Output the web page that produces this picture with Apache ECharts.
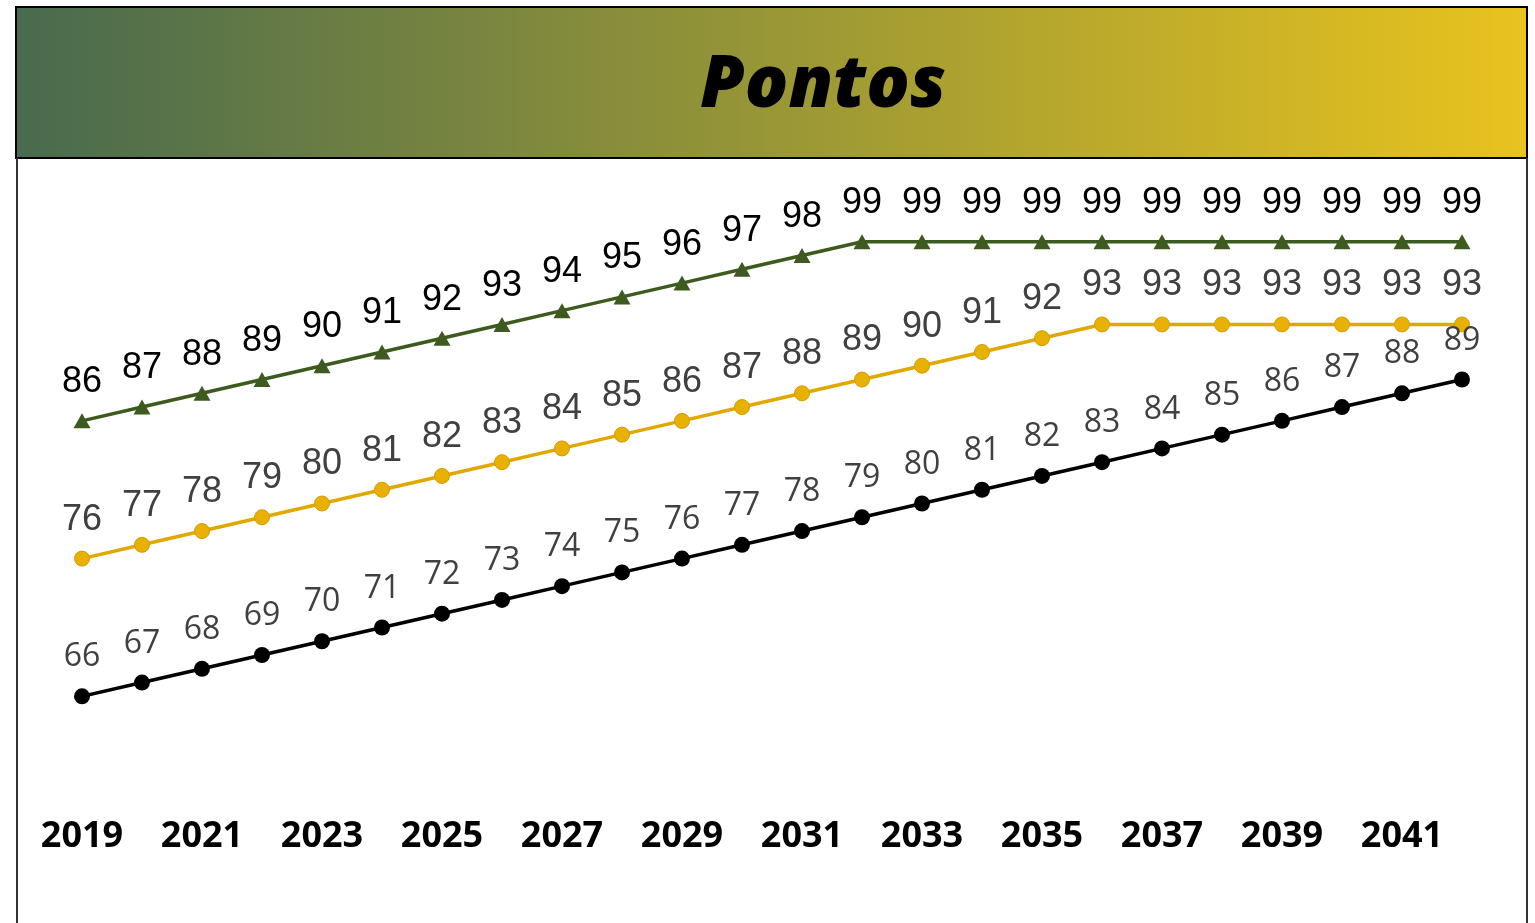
<!DOCTYPE html>
<html>
<head>
<meta charset="utf-8">
<script src="https://cdn.jsdelivr.net/npm/echarts@6/dist/echarts.min.js"></script>
<style>
  html, body { margin: 0; padding: 0; background: #fff; }
  #chart { width: 1535px; height: 923px; }
</style>
</head>
<body>
<div id="chart"></div>
<script>
// years 2019..2042
const years = ["2019", "2020", "2021", "2022", "2023", "2024", "2025", "2026", "2027", "2028", "2029", "2030",
  "2031", "2032", "2033", "2034", "2035", "2036", "2037", "2038", "2039", "2040", "2041", "2042"];
const topSeries = [86, 87, 88, 89, 90, 91, 92, 93, 94, 95, 96, 97, 98, 99, 99, 99, 99, 99, 99, 99, 99, 99, 99, 99];
const midSeries = [76, 77, 78, 79, 80, 81, 82, 83, 84, 85, 86, 87, 88, 89, 90, 91, 92, 93, 93, 93, 93, 93, 93, 93];
const lowSeries = [66, 67, 68, 69, 70, 71, 72, 73, 74, 75, 76, 77, 78, 79, 80, 81, 82, 83, 84, 85, 86, 87, 88, 89];
const title = "Pontos";

const chart = echarts.init(document.getElementById("chart"));

chart.setOption({
  backgroundColor: "#fff",
  animation: false,
  grid: { left: 82, right: 73, top: 228, bottom: 144 },
  xAxis: {
    type: "category",
    data: years,
    boundaryGap: false,
    axisLine: { show: false },
    axisTick: { show: false },
    splitLine: { show: false },
    axisLabel: {
      interval: 1,
      margin: 40,
      color: "#000",
      fontFamily: "Open Sans",
      fontWeight: "bold",
      fontSize: 36,
    },
  },
  yAxis: { type: "value", min: 60, max: 100, show: false },
  graphic: [
    {
      type: "rect",
      shape: { x: 16, y: 7, width: 1511, height: 151 },
      style: {
        fill: new echarts.graphic.LinearGradient(0, 0, 1, 0, [
          { offset: 0, color: "#486a4e" },
          { offset: 1, color: "#e9c31e" },
        ]),
        stroke: "#000",
        lineWidth: 2,
      },
      z: -1,
    },
    {
      type: "polyline",
      shape: { points: [[17, 158], [17, 930]] },
      style: { stroke: "#333", lineWidth: 2 },
    },
    {
      type: "polyline",
      shape: { points: [[1527, 158], [1527, 930]] },
      style: { stroke: "#333", lineWidth: 2 },
    },
    {
      type: "text",
      style: {
        x: 700,
        y: 86,
        text: title,
        fill: "#000",
        font: "italic 800 72px 'Open Sans'",
        verticalAlign: "middle",
      },
    },
  ],
  series: [
    {
      name: "top",
      type: "line",
      data: topSeries,
      symbol: "triangle",
      symbolSize: [17, 15],
      lineStyle: { color: "#3d5b1f", width: 3.5 },
      itemStyle: { color: "#3d5b1f" },
      label: {
        show: true,
        position: "top",
        distance: 13,
        color: "#000",
        fontFamily: "Liberation Sans",
        fontSize: 36,
      },
    },
    {
      name: "mid",
      type: "line",
      data: midSeries,
      symbol: "circle",
      symbolSize: 15,
      lineStyle: { color: "#e0a800", width: 3.5 },
      itemStyle: { color: "#e8b000", borderColor: "#d49d00", borderWidth: 1 },
      label: {
        show: true,
        position: "top",
        distance: 13,
        color: "#404040",
        fontFamily: "Liberation Sans",
        fontSize: 36,
      },
    },
    {
      name: "low",
      type: "line",
      data: lowSeries,
      symbol: "circle",
      symbolSize: 16,
      lineStyle: { color: "#000", width: 3.5 },
      itemStyle: { color: "#000" },
      label: {
        show: true,
        position: "top",
        distance: 15,
        color: "#404040",
        fontFamily: "Open Sans",
        fontSize: 32,
      },
    },
  ],
});
</script>
</body>
</html>
